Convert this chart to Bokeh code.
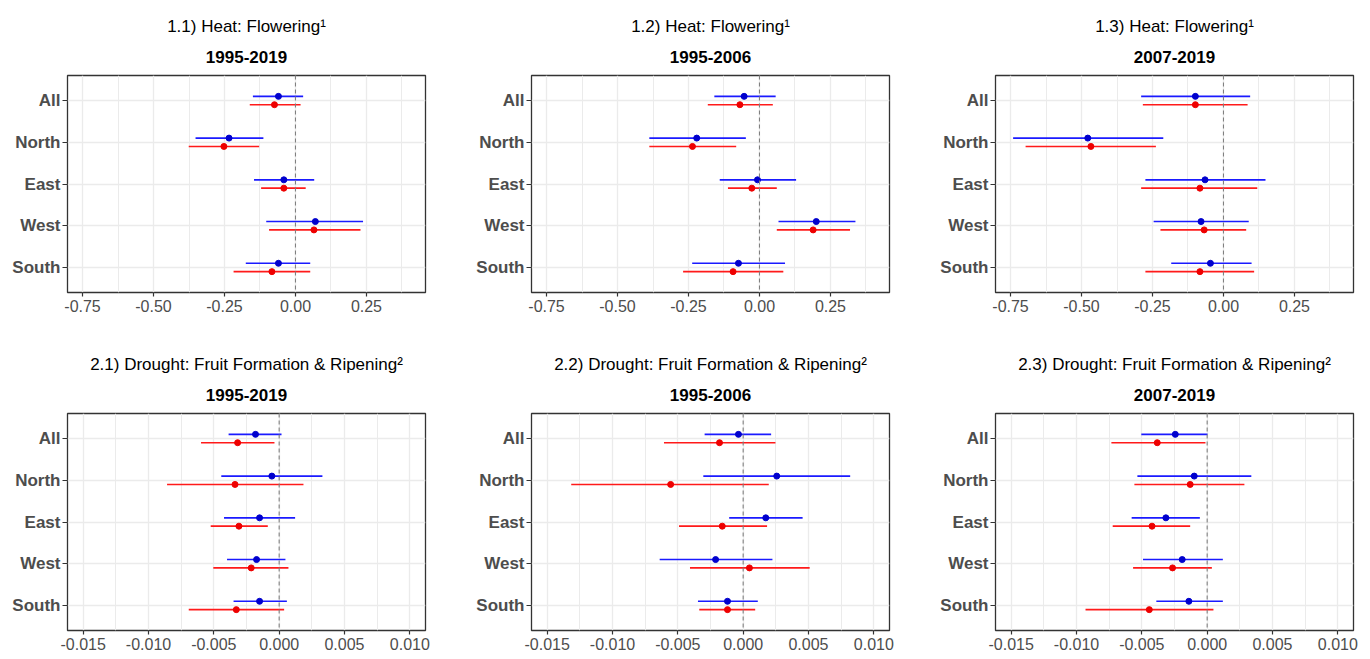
from bokeh.plotting import figure
from bokeh.models import Title, Span, FixedTicker, NumeralTickFormatter, FactorRange, Range1d, ColumnDataSource
from bokeh.transform import dodge
from bokeh.layouts import row, column
from bokeh.embed import file_html
from bokeh.resources import INLINE

FONT = "Liberation Sans"

regions = ["All", "North", "East", "West", "South"]

# ---- 1.1 Heat: Flowering, 1995-2019
h11_blue_est = [-0.060, -0.234, -0.041, 0.070, -0.060]
h11_blue_lo = [-0.150, -0.352, -0.146, -0.103, -0.175]
h11_blue_hi = [0.027, -0.113, 0.066, 0.238, 0.052]
h11_red_est = [-0.074, -0.252, -0.041, 0.065, -0.083]
h11_red_lo = [-0.161, -0.376, -0.121, -0.093, -0.218]
h11_red_hi = [0.018, -0.128, 0.036, 0.229, 0.052]

# ---- 1.2 Heat: Flowering, 1995-2006
h12_blue_est = [-0.054, -0.221, -0.007, 0.200, -0.074]
h12_blue_lo = [-0.159, -0.388, -0.140, 0.067, -0.237]
h12_blue_hi = [0.057, -0.048, 0.129, 0.338, 0.090]
h12_red_est = [-0.069, -0.236, -0.027, 0.189, -0.093]
h12_red_lo = [-0.182, -0.388, -0.111, 0.061, -0.269]
h12_red_hi = [0.047, -0.082, 0.061, 0.319, 0.084]

# ---- 1.3 Heat: Flowering, 2007-2019
h13_blue_est = [-0.099, -0.478, -0.065, -0.079, -0.046]
h13_blue_lo = [-0.290, -0.741, -0.275, -0.246, -0.184]
h13_blue_hi = [0.094, -0.212, 0.148, 0.089, 0.099]
h13_red_est = [-0.099, -0.467, -0.083, -0.068, -0.083]
h13_red_lo = [-0.284, -0.697, -0.290, -0.222, -0.275]
h13_red_hi = [0.085, -0.238, 0.119, 0.080, 0.108]

# ---- 2.1 Drought, 1995-2019
d21_blue_est = [-0.00181, -0.00056, -0.00150, -0.00173, -0.00150]
d21_blue_lo = [-0.00387, -0.00443, -0.00422, -0.00399, -0.00349]
d21_blue_hi = [0.00018, 0.00331, 0.00122, 0.00048, 0.00059]
d21_red_est = [-0.00318, -0.00338, -0.00308, -0.00214, -0.00328]
d21_red_lo = [-0.00598, -0.00858, -0.00524, -0.00504, -0.00692]
d21_red_hi = [-0.00036, 0.00186, -0.00087, 0.00071, 0.00038]

# ---- 2.2 Drought, 1995-2006
d22_blue_est = [-0.00036, 0.00257, 0.00173, -0.00211, -0.00120]
d22_blue_lo = [-0.00295, -0.00305, -0.00107, -0.00639, -0.00346]
d22_blue_hi = [0.00214, 0.00819, 0.00455, 0.00224, 0.00112]
d22_red_est = [-0.00181, -0.00555, -0.00160, 0.00048, -0.00120]
d22_red_lo = [-0.00606, -0.01316, -0.00491, -0.00407, -0.00336]
d22_red_hi = [0.00247, 0.00196, 0.00183, 0.00509, 0.00092]

# ---- 2.3 Drought, 2007-2019
d23_blue_est = [-0.00244, -0.00099, -0.00316, -0.00191, -0.00140]
d23_blue_lo = [-0.00504, -0.00534, -0.00578, -0.00491, -0.00389]
d23_blue_hi = [0.00003, 0.00338, -0.00056, 0.00120, 0.00120]
d23_red_est = [-0.00382, -0.00130, -0.00422, -0.00265, -0.00443]
d23_red_lo = [-0.00733, -0.00557, -0.00723, -0.00567, -0.00931]
d23_red_hi = [-0.00013, 0.00285, -0.00130, 0.00036, 0.00048]

heat_title = "Heat: Flowering\u00b9"
drought_title = "Drought: Fruit Formation & Ripening\u00b2"
periods = ["1995-2019", "1995-2006", "2007-2019"]

heat_ticks = [-0.75, -0.50, -0.25, 0.00, 0.25]
heat_minor = [-0.625, -0.375, -0.125, 0.125, 0.375]
drought_ticks = [-0.015, -0.010, -0.005, 0.000, 0.005, 0.010]
drought_minor = [-0.0125, -0.0075, -0.0025, 0.0025, 0.0075]

heat_xlim = (-0.803, 0.458)
drought_xlim = (-0.0162, 0.0112)

BLUE_LINE = "#1a1aff"
BLUE_PT = "#0000cd"
RED_LINE = "#ff1a1a"
RED_PT = "#ee0000"
GRID = "#ebebeb"
TXT = "#4d4d4d"


def panel(title, subtitle, series, xlim, ticks, minor, fmt, width, height,
          left, right, top, bottom, s_main, s_sub):
    be, bl, bh, re_, rl, rh = series
    p = figure(width=width, height=height, output_backend="svg", toolbar_location=None,
               x_range=Range1d(*xlim),
               y_range=FactorRange(factors=regions[::-1], range_padding=0.1,
                                   range_padding_units="absolute"),
               min_border_left=left, min_border_right=right,
               min_border_top=top, min_border_bottom=bottom,
               title=title)
    p.background_fill_color = "white"
    p.border_fill_color = "white"
    p.outline_line_color = "#333333"
    p.outline_line_width = 1.3
    p.outline_line_alpha = 1.0

    p.title.align = "center"
    p.title.text_font = FONT
    p.title.text_font_size = "17px"
    p.title.text_font_style = "normal"
    p.title.text_color = "black"
    p.title.standoff = s_main
    p.add_layout(Title(text=subtitle, align="center", text_font=FONT, text_font_size="17px",
                       text_font_style="bold", text_color="black", standoff=s_sub), "above")

    p.xaxis.ticker = FixedTicker(ticks=ticks, minor_ticks=minor)
    p.xaxis.formatter = NumeralTickFormatter(format=fmt)
    for ax in (p.xaxis, p.yaxis):
        ax.axis_line_color = None
        ax.major_tick_line_color = "#333333"
        ax.major_tick_line_width = 1.2
        ax.major_tick_in = 0
        ax.minor_tick_line_color = None
        ax.major_label_text_font = FONT
        ax.major_label_text_color = TXT
    p.xaxis.major_tick_out = 4
    p.yaxis.major_tick_out = 5
    p.xaxis.major_label_text_font_size = "16px"
    p.xaxis.major_label_standoff = 3
    p.yaxis.major_label_text_font_size = "17px"
    p.yaxis.major_label_text_font_style = "bold"
    p.yaxis.major_label_standoff = 2

    p.xgrid.grid_line_color = GRID
    p.xgrid.grid_line_width = 1.3
    p.xgrid.minor_grid_line_color = GRID
    p.xgrid.minor_grid_line_width = 1.0
    p.ygrid.grid_line_color = GRID
    p.ygrid.grid_line_width = 1.3

    p.add_layout(Span(location=0, dimension="height", line_color="#808080",
                      line_dash="4 3", line_width=1.1))

    src = ColumnDataSource(dict(region=regions, be=be, bl=bl, bh=bh, re=re_, rl=rl, rh=rh))
    yb = dodge("region", 0.1, range=p.y_range)
    yr = dodge("region", -0.1, range=p.y_range)
    p.segment(x0="bl", y0=yb, x1="bh", y1=yb, source=src, line_color=BLUE_LINE, line_width=1.6)
    p.segment(x0="rl", y0=yr, x1="rh", y1=yr, source=src, line_color=RED_LINE, line_width=1.6)
    p.scatter(x="be", y=yb, source=src, size=6, fill_color=BLUE_PT, line_color=BLUE_PT)
    p.scatter(x="re", y=yr, source=src, size=6, fill_color=RED_PT, line_color=RED_PT)
    return p


heat_series = [
    (h11_blue_est, h11_blue_lo, h11_blue_hi, h11_red_est, h11_red_lo, h11_red_hi),
    (h12_blue_est, h12_blue_lo, h12_blue_hi, h12_red_est, h12_red_lo, h12_red_hi),
    (h13_blue_est, h13_blue_lo, h13_blue_hi, h13_red_est, h13_red_lo, h13_red_hi),
]
drought_series = [
    (d21_blue_est, d21_blue_lo, d21_blue_hi, d21_red_est, d21_red_lo, d21_red_hi),
    (d22_blue_est, d22_blue_lo, d22_blue_hi, d22_red_est, d22_red_lo, d22_red_hi),
    (d23_blue_est, d23_blue_lo, d23_blue_hi, d23_red_est, d23_red_lo, d23_red_hi),
]

widths = [472, 464, 426]
lefts = [67, 59, 59]
rights = [47, 47, 9]

top_row = []
bot_row = []
for i in range(3):
    top_row.append(panel(f"1.{i+1}) {heat_title}", periods[i], heat_series[i], heat_xlim,
                         heat_ticks, heat_minor, "0.00", widths[i], 346,
                         lefts[i], rights[i], 75, 54, 0, 26))
    bot_row.append(panel(f"2.{i+1}) {drought_title}", periods[i], drought_series[i], drought_xlim,
                         drought_ticks, drought_minor, "0.000", widths[i], 306,
                         lefts[i], rights[i], 67, 22, 0, 26))

layout = column(row(*top_row), row(*bot_row))

open("out.html", "w").write(file_html(layout, INLINE))
